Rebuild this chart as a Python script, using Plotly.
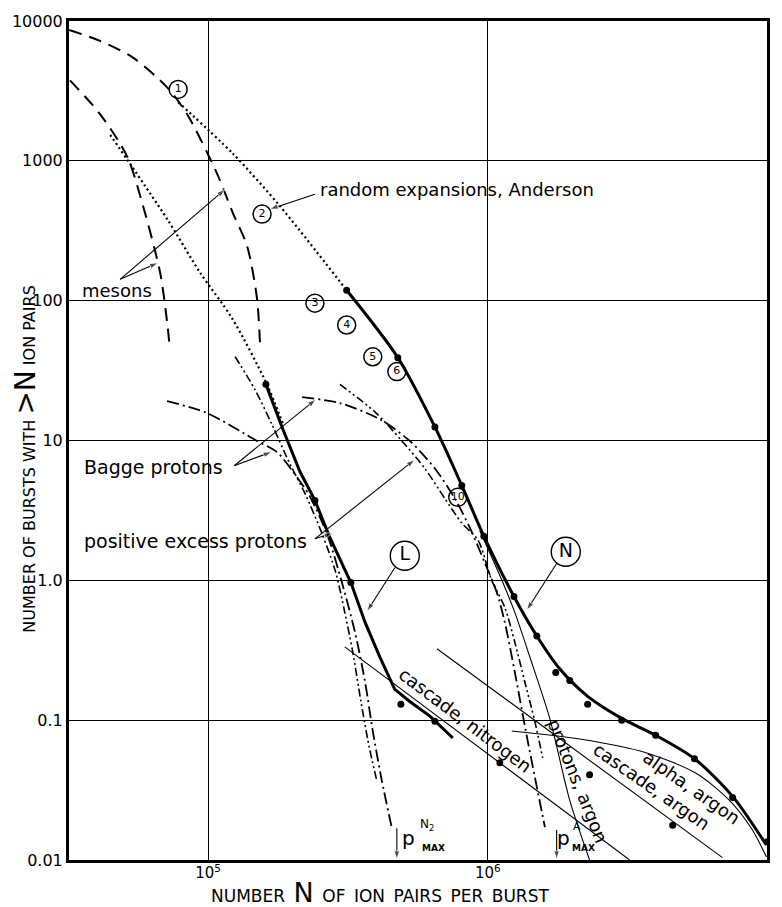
import numpy as np
import plotly.graph_objects as go

# ---------------- axis ticks ----------------
x_tick_vals = [1e5, 1e6, 1e7]
x_tick_text = ["10<sup>5</sup>", "10<sup>6</sup>", "10<sup>7</sup>"]
y_tick_vals = [0.01, 0.1, 1, 10, 100, 1000, 10000]
y_tick_text = ["0.01", "0.1", "1.0", "10", "100", "1000", "10000"]

# ---------------- curve N (bursts, nitrogen) ----------------
n_dots_x = [313e3, 477e3, 647e3, 807e3, 968e3, 1.24e6, 1.497e6, 1.749e6, 1.963e6,
            2.275e6, 3.01e6, 3.98e6, 5.48e6, 7.5e6, 1.0e7]
n_dots_y = [118.6, 39.1, 12.5, 4.77, 2.07, 0.767, 0.400, 0.219, 0.192,
            0.130, 0.100, 0.078, 0.053, 0.028, 0.0135]
n_line_x = [313e3, 477e3, 647e3, 807e3, 968e3, 1.24e6, 1.497e6, 1.807e6, 2.275e6,
            3.01e6, 3.98e6, 5.48e6, 7.5e6, 9.9e6]
n_line_y = [118.6, 39.1, 12.5, 4.77, 2.07, 0.767, 0.400, 0.233, 0.148,
            0.103, 0.078, 0.053, 0.0285, 0.0128]

# ---------------- curve L ----------------
l_line_x = [161e3, 185e3, 213e3, 241e3, 273e3, 324e3, 364e3, 411e3, 465e3, 526e3, 621e3, 750e3]
l_line_y = [25.2, 12.1, 6.0, 3.73, 2.01, 0.964, 0.502, 0.284, 0.166, 0.136, 0.107, 0.0746]
l_dots_x = [161e3, 241e3, 324e3, 489e3, 647e3]
l_dots_y = [25.2, 3.73, 0.964, 0.130, 0.0984]

# extra single observations
extra_dots_x = [1.104e6, 2.311e6, 4.58e6]
extra_dots_y = [0.0496, 0.0407, 0.0177]

# ---------------- mesons (dashed) ----------------
meson_a_x = [31.9e3, 41.1e3, 53.9e3, 71.4e3, 84.1e3, 107.7e3, 122.7e3, 137.8e3, 149.6e3, 153.4e3]
meson_a_y = [8630, 7210, 5470, 3350, 2160, 811, 423, 247, 104, 48.3]
meson_b_x = [32.1e3, 41.1e3, 51.4e3, 58.6e3, 67.4e3, 71.4e3, 73.1e3]
meson_b_y = [3760, 2160, 1072, 474, 159, 70.3, 44.6]

# ---------------- random expansions, Anderson (dotted) ----------------
anderson_a_x = [78.2e3, 122.7e3, 180.8e3, 313e3]
anderson_a_y = [2630, 1125, 474, 118.6]
anderson_b_x = [44.7e3, 71.4e3, 93.6e3, 121.8e3, 162.4e3, 185.3e3]
anderson_b_y = [1535, 384, 159, 75, 25.2, 13.1]

# ---------------- Bagge protons (dash-dot) ----------------
bagge_low_x = [71.4e3, 99.2e3, 149.6e3, 176e3, 201e3, 231e3, 268e3, 301e3, 335e3, 364e3, 388e3, 418e3, 454e3]
bagge_low_y = [19.1, 15.7, 9.93, 8.3, 6.0, 3.99, 2.07, 0.964, 0.427, 0.189, 0.0836, 0.037, 0.0169]
bagge_high_x = [217e3, 296e3, 411e3, 526e3, 647e3, 762e3, 863e3, 975e3, 1.077e6, 1.15e6, 1.248e6, 1.389e6, 1.6e6]
bagge_high_y = [20.4, 18.5, 14.2, 9.93, 6.3, 3.85, 2.37, 1.34, 0.82, 0.502, 0.222, 0.071, 0.0172]

# ---------------- positive excess protons (dash-dot-dot) ----------------
posex_low_x = [125e3, 147e3, 169e3, 196e3, 222e3, 255e3, 286e3, 308e3, 329e3, 352e3, 376e3, 401e3]
posex_low_y = [39.7, 23.2, 13.1, 6.82, 4.19, 2.18, 1.14, 0.592, 0.308, 0.136, 0.0655, 0.037]
posex_high_x = [296e3, 395e3, 493e3, 596e3, 702e3, 807e3, 921e3, 1.033e6, 1.15e6, 1.248e6, 1.355e6, 1.472e6, 1.571e6]
posex_high_y = [25.2, 16.0, 9.93, 6.3, 3.85, 2.57, 1.95, 1.0, 0.641, 0.363, 0.189, 0.0984, 0.0538]

# ---------------- thin theoretical lines ----------------
protons_argon_x = [936e3, 1.033e6, 1.132e6, 1.248e6, 1.413e6, 1.665e6, 1.963e6, 2.311e6]
protons_argon_y = [2.26, 1.46, 0.964, 0.592, 0.284, 0.103, 0.0267, 0.01]
cascade_n2_x = [308e3, 3.214e6]
cascade_n2_y = [0.334, 0.01]
cascade_ar_x = [658e3, 6.9e6]
cascade_ar_y = [0.324, 0.0104]
alpha_ar_x = [1.218e6, 2.132e6, 3.7e6, 5.57e6, 7.31e6, 8.83e6, 9.91e6]
alpha_ar_y = [0.0836, 0.0733, 0.0583, 0.0415, 0.0267, 0.0164, 0.0105]

# ---------------- circled run numbers ----------------
run_labels = ["1", "2", "3", "4", "5", "6", "10"]
run_x = [78.2e3, 156e3, 241e3, 313e3, 388e3, 473e3, 781e3]
run_y = [3240, 416, 96, 67, 39.7, 31.1, 3.92]
curve_labels = ["L", "N"]
curve_lab_x = [505e3, 1.9e6]
curve_lab_y = [1.50, 1.60]

# ---------------- pointer arrows (start, end) ----------------
arrows = [
    ((241e3, 577), (166e3, 451)),      # random expansions
    ((48.5e3, 142), (115e3, 626)),     # mesons
    ((48.5e3, 142), (66.3e3, 187)),    # mesons
    ((124e3, 6.6), (243e3, 19.7)),     # Bagge
    ((124e3, 6.6), (169e3, 8.3)),      # Bagge
    ((241e3, 1.98), (279e3, 2.18)),    # positive excess
    ((241e3, 1.98), (548e3, 7.3)),     # positive excess
    ((465e3, 1.23), (370e3, 0.601)),   # L
    ((1.762e6, 1.32), (1.377e6, 0.611)),  # N
    ((473e3, 0.0169), (473e3, 0.0101)),   # p max N2
    ((1.762e6, 0.0164), (1.762e6, 0.0101)),  # p max A
]

FONT = "DejaVu Sans"
fig = go.Figure()


def add_line(x, y, width, dash="solid", shape="linear"):
    fig.add_trace(go.Scatter(x=x, y=y, mode="lines",
                             line=dict(color="black", width=width, dash=dash, shape=shape,
                                       smoothing=0.8),
                             hoverinfo="skip", showlegend=False))


def add_dots(x, y, size=7):
    fig.add_trace(go.Scatter(x=x, y=y, mode="markers",
                             marker=dict(color="black", size=size),
                             hoverinfo="skip", showlegend=False))


# thin lines first
add_line(protons_argon_x, protons_argon_y, 1.1, shape="spline")
add_line(cascade_n2_x, cascade_n2_y, 1.1)
add_line(cascade_ar_x, cascade_ar_y, 1.1)
add_line(alpha_ar_x, alpha_ar_y, 1.1, shape="spline")

# mesons / Anderson
add_line(meson_a_x, meson_a_y, 2, dash="13px,8px", shape="spline")
add_line(meson_b_x, meson_b_y, 2, dash="13px,8px", shape="spline")
add_line(anderson_a_x, anderson_a_y, 2.2, dash="2px,3px", shape="spline")
add_line(anderson_b_x, anderson_b_y, 2.2, dash="2px,3px", shape="spline")

# protons
add_line(bagge_low_x, bagge_low_y, 1.8, dash="12px,4px,2px,4px", shape="spline")
add_line(bagge_high_x, bagge_high_y, 1.8, dash="12px,4px,2px,4px", shape="spline")
add_line(posex_low_x, posex_low_y, 1.6, dash="8px,3px,2px,3px,2px,3px", shape="spline")
add_line(posex_high_x, posex_high_y, 1.6, dash="8px,3px,2px,3px,2px,3px", shape="spline")

# measured curves
add_line(n_line_x, n_line_y, 3, shape="spline")
add_line(l_line_x, l_line_y, 3)
add_dots(n_dots_x, n_dots_y)
add_dots(l_dots_x, l_dots_y)
add_dots(extra_dots_x, extra_dots_y)

# arrows
for (x0, y0), (x1, y1) in arrows:
    fig.add_trace(go.Scatter(x=[x0, x1], y=[y0, y1], mode="lines+markers",
                             line=dict(color="black", width=1.1),
                             marker=dict(symbol="arrow", size=[0, 9], angleref="previous",
                                         color="black"),
                             hoverinfo="skip", showlegend=False))

# circled labels
fig.add_trace(go.Scatter(x=run_x, y=run_y, mode="markers+text", text=run_labels,
                         textposition="middle center",
                         textfont=dict(family=FONT, size=11, color="black"),
                         marker=dict(symbol="circle-open", size=18, color="black",
                                     line=dict(width=1.5, color="black")),
                         hoverinfo="skip", showlegend=False))
fig.add_trace(go.Scatter(x=curve_lab_x, y=curve_lab_y, mode="markers+text", text=curve_labels,
                         textposition="middle center",
                         textfont=dict(family=FONT, size=19, color="black"),
                         marker=dict(symbol="circle-open", size=29, color="black",
                                     line=dict(width=1.4, color="black")),
                         hoverinfo="skip", showlegend=False))

# text labels (annotation positions on log axes are given as log10)
labels = [
    ("random expansions, Anderson", 247e3, 625, 0, "left", 18),
    ("mesons", 34.9e3, 118.6, 0, "left", 18),
    ("Bagge protons", 35.5e3, 6.5, 0, "left", 19),
    ("positive excess protons", 35.5e3, 1.91, 0, "left", 19),
    ("cascade, nitrogen", 835e3, 0.1, 37, "center", 18),
    ("cascade, argon", 3.85e6, 0.0335, 35, "center", 18),
    ("alpha, argon", 5.358e6, 0.033, 35, "center", 18),
    ("protons, argon", 2.094e6, 0.037, 68, "center", 18),
    ("p", 520e3, 0.01436, 0, "center", 20),
    ("N<sub>2</sub>", 605e3, 0.01774, 0, "center", 12),
    ("<b>MAX</b>", 640e3, 0.0122, 0, "center", 9),
    ("p", 1.86e6, 0.01436, 0, "center", 20),
    ("A", 2.08e6, 0.01746, 0, "center", 11),
    ("<b>MAX</b>", 2.2e6, 0.0122, 0, "center", 9),
]
for text, x, y, ang, anchor, size in labels:
    fig.add_annotation(x=np.log10(x), y=np.log10(y), xref="x", yref="y", text=text,
                       showarrow=False, textangle=ang, xanchor=anchor, yanchor="middle",
                       font=dict(family=FONT, size=size, color="black"))

# axis titles
fig.add_annotation(xref="paper", yref="paper", x=0.4456, y=-0.039, xanchor="center",
                   yanchor="middle", showarrow=False,
                   text="NUMBER\u2002<span style='font-size:27px'>N</span>\u2002OF\u2002ION\u2002PAIRS\u2002PER\u2002BURST",
                   font=dict(family=FONT, size=17, color="black"))
fig.add_annotation(xref="paper", yref="paper", x=-0.062, y=0.478, xanchor="center",
                   yanchor="middle", showarrow=False, textangle=-90,
                   text="NUMBER OF BURSTS WITH <span style='font-size:28px'>&gt;N</span> ION PAIRS",
                   font=dict(family=FONT, size=16, color="black"))

axis_common = dict(type="log", showgrid=True, gridcolor="black", gridwidth=1,
                   showline=True, linecolor="black", linewidth=3, mirror=True,
                   ticks="", zeroline=False)
fig.update_xaxes(range=[4.503, 6.998], tickvals=x_tick_vals, ticktext=x_tick_text,
                 tickfont=dict(family=FONT, size=15, color="black"), ticklabelstandoff=-3,
                 **axis_common)
fig.update_yaxes(range=[-2, 4], tickvals=y_tick_vals, ticktext=y_tick_text,
                 tickfont=dict(family=FONT, size=16, color="black"), **axis_common)

fig.update_layout(width=782, height=907, margin=dict(l=69, r=15, t=13, b=47),
                  plot_bgcolor="white", paper_bgcolor="white", showlegend=False,
                  font=dict(family=FONT, color="black"))

fig.write_html("out.html")
